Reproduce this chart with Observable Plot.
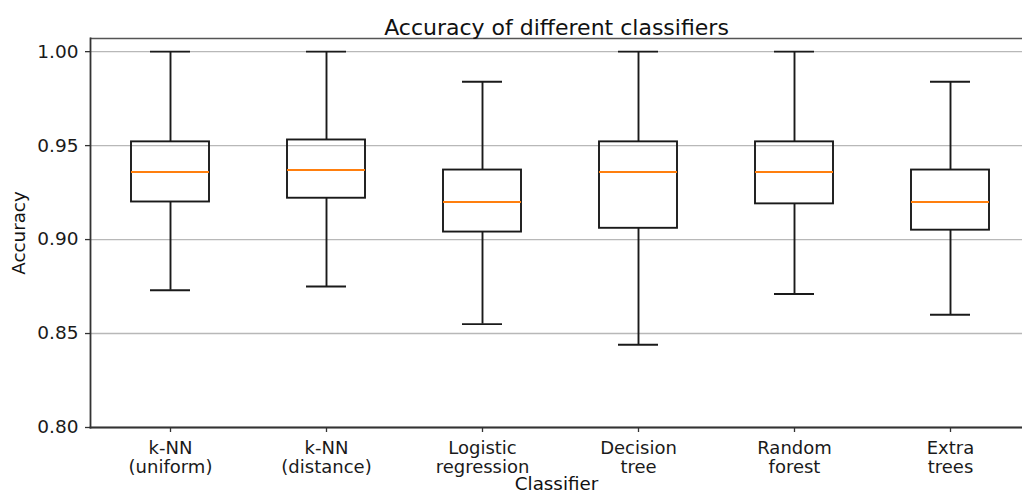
<!DOCTYPE html>
<html>
<head>
<meta charset="utf-8">
<script src="https://cdn.jsdelivr.net/npm/d3@7"></script>
<script src="https://cdn.jsdelivr.net/npm/@observablehq/plot@0.6"></script>
<style>
  html, body { margin: 0; padding: 0; background: #fff; overflow: hidden; }
  svg { display: block; }
</style>
</head>
<body>
<div id="chart"></div>
<script>
const categories = ["k-NN\n(uniform)", "k-NN\n(distance)", "Logistic\nregression", "Decision\ntree", "Random\nforest", "Extra\ntrees"];
const whiskerLow  = [0.873, 0.875, 0.855, 0.844, 0.871, 0.860];
const q1          = [0.920, 0.922, 0.904, 0.906, 0.919, 0.905];
const median      = [0.936, 0.937, 0.920, 0.936, 0.936, 0.920];
const q3          = [0.952, 0.953, 0.937, 0.952, 0.952, 0.937];
const whiskerHigh = [1.000, 1.000, 0.984, 1.000, 1.000, 0.984];
const yTicks = [0.80, 0.85, 0.90, 0.95, 1.00];
const yDomain = [0.80, 1.007];

const title = "Accuracy of different classifiers";
const xLabel = "Classifier";
const yLabel = "Accuracy";

const rows = categories.map((c, i) => ({
  cat: c, lo: whiskerLow[i], q1: q1[i], med: median[i], q3: q3[i], hi: whiskerHigh[i]
}));

const W = 1022, H = 499;
const mL = 90, mT = 38, mB = 72;
const font = "DejaVu Sans";
const boxInset = 39;
const capInset = 58;
const lw = 1.9;
const ink = "#1a1a1a";

const chart = Plot.plot({
  width: W,
  height: H,
  marginLeft: mL,
  marginTop: mT,
  marginBottom: mB,
  marginRight: 0,
  style: { fontFamily: font, fontSize: "18px", color: "#1a1a1a", background: "#fff" },
  x: { type: "band", domain: categories, range: [mL, 1029], padding: 0, align: 0.5 },
  y: { domain: yDomain },
  marks: [
    Plot.gridY(yTicks, { stroke: "#b8b8b8", strokeOpacity: 1, strokeWidth: 1.4 }),
    // whiskers
    Plot.ruleX(rows, { x: "cat", y1: "lo", y2: "q1", stroke: ink, strokeWidth: lw }),
    Plot.ruleX(rows, { x: "cat", y1: "q3", y2: "hi", stroke: ink, strokeWidth: lw }),
    Plot.tickY(rows, { x: "cat", y: "lo", stroke: ink, strokeWidth: lw, insetLeft: capInset, insetRight: capInset }),
    Plot.tickY(rows, { x: "cat", y: "hi", stroke: ink, strokeWidth: lw, insetLeft: capInset, insetRight: capInset }),
    // boxes
    Plot.rectY(rows, { x: "cat", y1: "q1", y2: "q3", fill: "none", stroke: ink, strokeWidth: lw, insetLeft: boxInset, insetRight: boxInset }),
    Plot.tickY(rows, { x: "cat", y: "med", stroke: "#ff7f0e", strokeWidth: lw, insetLeft: boxInset, insetRight: boxInset }),
    // spines
    Plot.ruleY([yDomain[1]], { stroke: "#555", strokeWidth: 1.6 }),
    Plot.axisY(yTicks, { tickFormat: ".2f", tickSize: 5, tickPadding: 7, fontSize: 18.5, stroke: "#333", strokeWidth: 1.3, label: null }),
    Plot.axisX({ tickSize: 5, tickPadding: 8, fontSize: 18, lineHeight: 1.06, stroke: "#333", strokeWidth: 1.3, label: null }),
    Plot.frame({ anchor: "left", stroke: "#333", strokeWidth: 1.8 }),
    Plot.frame({ anchor: "bottom", stroke: "#333", strokeWidth: 1.8 }),
    // labels
    Plot.text([title], { frameAnchor: "top", dy: -19, fontSize: 22, fill: "#111" }),
    Plot.text([xLabel], { frameAnchor: "bottom", dy: 62, fontSize: 18.3, fill: "#111" }),
    Plot.text([yLabel], { frameAnchor: "left", textAnchor: "middle", dx: -71, rotate: -90, fontSize: 18.3, fill: "#111" })
  ]
});

document.getElementById("chart").appendChild(chart);
</script>
</body>
</html>
